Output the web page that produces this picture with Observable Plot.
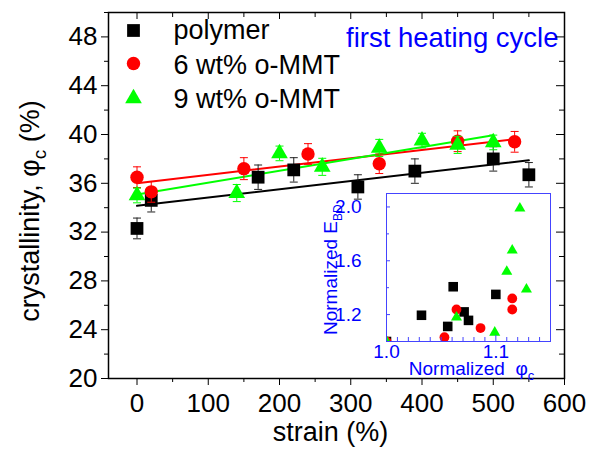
<!DOCTYPE html>
<html><head><meta charset="utf-8">
<script src="https://cdn.jsdelivr.net/npm/d3@7"></script>
<script src="https://cdn.jsdelivr.net/npm/@observablehq/plot@0.6"></script>
<style>
body{margin:0;background:#fff;}
#wrap{position:relative;width:590px;height:449px;overflow:hidden;}
#wrap svg{position:absolute;overflow:visible;}
</style></head><body><div id="wrap"></div>
<script>
const FONT = '"Liberation Sans", Arial, Helvetica, sans-serif';

// ---- series meta ----
const seriesNames = ["polymer", "6 wt% o-MMT", "9 wt% o-MMT"];
const seriesColors = ["#000000", "#ff0000", "#00ff00"];
const seriesSymbols = ["square", "circle", "triangle"];

// ---- main panel data: strain (%) vs crystallinity (%) with error ----
const strainPolymer = [0, 20, 170, 220, 310, 390, 500, 550];
const phiPolymer    = [32.3, 34.6, 36.5, 37.1, 35.7, 37.0, 38.0, 36.7];
const errPolymer    = [0.85, 0.95, 1.0, 1.0, 1.0, 1.0, 1.0, 1.0];

const strain6 = [0, 20, 150, 240, 340, 450, 530];
const phi6    = [36.5, 35.3, 37.2, 38.4, 37.6, 39.45, 39.4];
const err6    = [0.85, 0.85, 0.9, 0.85, 0.8, 0.85, 0.85];

const strain9 = [0, 140, 200, 260, 340, 400, 450, 500];
const phi9    = [35.0, 35.2, 38.45, 37.35, 38.9, 39.5, 39.15, 39.35];
const err9    = [0.6, 0.7, 0.6, 0.7, 0.7, 0.6, 0.7, 0.6];

// ---- inset data: normalized phi_c vs normalized E_BD ----
const normPhiPolymer = [1.0, 1.032, 1.061, 1.056, 1.071, 1.075, 1.1];
const normEPolymer   = [1.0, 1.195, 1.407, 1.112, 1.22, 1.157, 1.35];
const normPhi6 = [1.0, 1.053, 1.064, 1.086, 1.115, 1.115];
const normE6   = [1.0, 1.032, 1.238, 1.1, 1.32, 1.238];
const normPhi9 = [1.0, 1.064, 1.099, 1.11, 1.115, 1.122, 1.128];
const normE9   = [1.0, 1.18, 1.067, 1.52, 1.677, 1.99, 1.388];

// ---- ticks and labels ----
const xTicks = [0, 100, 200, 300, 400, 500, 600];
const xMinorTicks = [50, 150, 250, 350, 450, 550];
const yTicks = [20, 24, 28, 32, 36, 40, 44, 48];
const yMinorTicks = [22, 26, 30, 34, 38, 42, 46, 50];
const insetXTicks = [1.0, 1.1];
const insetXMinorTicks = [1.01, 1.02, 1.03, 1.04, 1.05, 1.06, 1.07, 1.08, 1.09, 1.11, 1.12, 1.13, 1.14];
const insetYTicks = [1.2, 1.6, 2.0];
const insetYMinorTicks = [1.4, 1.8];
const xLabel = "strain (%)";
const yLabelParts = ["crystallinity, \u03c6", "c", " (%)"];
const annotation = "first heating cycle";
const insetXLabelParts = ["Normalized\u00a0\u00a0\u03c6", "c"];
const insetYLabelParts = ["Normalized E", "BD"];

function rows(xs, ys, es, s) { return xs.map((x, i) => ({x, y: ys[i], e: es ? es[i] : 0, s})); }
const mainSeries = [
  rows(strainPolymer, phiPolymer, errPolymer, 0),
  rows(strain6, phi6, err6, 1),
  rows(strain9, phi9, err9, 2)
];
const insetSeries = [
  rows(normPhiPolymer, normEPolymer, null, 0),
  rows(normPhi6, normE6, null, 1),
  rows(normPhi9, normE9, null, 2)
];

const capSymbol = { draw(ctx, size) { const w = Math.sqrt(size / Math.PI); ctx.moveTo(-w, 0); ctx.lineTo(w, 0); } };
const mainR = [7.2, 6.7, 6.2];
const insetR = [5.4, 4.9, 4.1];

// ---- main chart ----
const W = 590, H = 449, mL = 108, mT = 12, mR = 26, mB = 71;
const pw = W - mL - mR, ph = H - mT - mB;

const marks = [];
mainSeries.forEach((d, i) => marks.push(Plot.linearRegressionY(d, {x: "x", y: "y", stroke: seriesColors[i], strokeWidth: 2, ci: 0})));
mainSeries.forEach((d, i) => {
  const ec = i === 0 ? "#222" : seriesColors[i];
  marks.push(Plot.ruleX(d, {x: "x", y1: r => r.y - r.e, y2: r => r.y + r.e, stroke: ec, strokeWidth: 1}));
  marks.push(Plot.dot(d, {x: "x", y: r => r.y + r.e, symbol: capSymbol, r: 4, fill: "none", stroke: ec, strokeWidth: 1}));
  marks.push(Plot.dot(d, {x: "x", y: r => r.y - r.e, symbol: capSymbol, r: 4, fill: "none", stroke: ec, strokeWidth: 1}));
  marks.push(Plot.dot(d, {x: "x", y: "y", symbol: seriesSymbols[i], r: mainR[i], fill: seriesColors[i]}));
});
// legend
const legendDotDy = [18, 51, 86];
const legendTextDy = [17.5, 52.5, 86.5];
seriesNames.forEach((name, i) => {
  marks.push(Plot.dot([name], {frameAnchor: "top-left", dx: 25, dy: legendDotDy[i], symbol: seriesSymbols[i], r: mainR[i], fill: seriesColors[i]}));
  marks.push(Plot.text([name], {frameAnchor: "top-left", lineAnchor: "middle", dx: 65, dy: legendTextDy[i], text: d => d, textAnchor: "start", fontSize: 27, fill: "#000"}));
});
marks.push(Plot.text([annotation], {frameAnchor: "top-right", lineAnchor: "middle", dx: -6, dy: 25.5, text: d => d, textAnchor: "end", fontSize: 27.5, fill: "#0000ff"}));
marks.push(Plot.text([xLabel], {frameAnchor: "bottom", lineAnchor: "middle", dx: -6, dy: 53.5, text: d => d, fontSize: 27, fill: "#000"}));
// axes
marks.push(Plot.axisX({anchor: "bottom", ticks: xTicks, tickSize: 7, tickPadding: 8, fontSize: 26, label: null}));
marks.push(Plot.axisX({anchor: "bottom", ticks: xMinorTicks, tickSize: 4, tickFormat: () => "", label: null}));
marks.push(Plot.axisY({anchor: "left", ticks: yTicks, tickSize: 7, tickPadding: 4, fontSize: 26, label: null}));
marks.push(Plot.axisY({anchor: "left", ticks: yMinorTicks, tickSize: 4, tickFormat: () => "", label: null}));
marks.push(Plot.tickX(xTicks, {x: d => d, insetBottom: ph - 7, stroke: "#000"}));
marks.push(Plot.tickX(xMinorTicks, {x: d => d, insetBottom: ph - 5, stroke: "#000"}));
marks.push(Plot.tickY(yTicks, {y: d => d, insetLeft: pw - 8, stroke: "#000"}));
marks.push(Plot.tickY(yMinorTicks, {y: d => d, insetLeft: pw - 5, stroke: "#000"}));
marks.push(Plot.frame({stroke: "#000", strokeWidth: 1.5}));

const main = Plot.plot({
  width: W, height: H,
  marginLeft: mL, marginTop: mT, marginRight: mR, marginBottom: mB,
  x: {domain: [-40, 600]},
  y: {domain: [20, 50]},
  style: {fontFamily: FONT, background: "#fff", color: "#000"},
  marks
});
main.style.left = "0px"; main.style.top = "0px";
document.getElementById("wrap").appendChild(main);

const yl = d3.select(main).append("text")
  .attr("transform", "translate(38.5,211) rotate(-90)")
  .attr("text-anchor", "middle").attr("font-size", 27).attr("font-family", FONT).attr("fill", "#000");
yl.append("tspan").text(yLabelParts[0]);
yl.append("tspan").attr("dy", 7).attr("font-size", 19).text(yLabelParts[1]);
yl.append("tspan").attr("dy", -7).text(yLabelParts[2]);

// ---- inset chart ----
const IW = 250, IH = 210, iL = 66, iT = 8, iR = 20, iB = 54;
const ipw = IW - iL - iR, iph = IH - iT - iB;
const BLUE = "#0000ff", FRAMEBLUE = "#4444ff";
const fmt1 = d3.format(".1f");
const imarks = [];
insetSeries.forEach((d, i) => imarks.push(Plot.dot(d, {x: "x", y: "y", symbol: seriesSymbols[i], r: insetR[i], fill: seriesColors[i], clip: true})));
imarks.push(Plot.tickX(insetXTicks, {x: d => d, insetTop: iph - 6, stroke: FRAMEBLUE}));
imarks.push(Plot.tickX(insetXMinorTicks, {x: d => d, insetTop: iph - 4, stroke: FRAMEBLUE}));
imarks.push(Plot.tickY(insetYTicks, {y: d => d, insetRight: ipw - 4, stroke: FRAMEBLUE}));
imarks.push(Plot.tickY(insetYMinorTicks, {y: d => d, insetRight: ipw - 3, stroke: FRAMEBLUE}));
imarks.push(Plot.text(insetXTicks, {x: d => d, frameAnchor: "bottom", lineAnchor: "top", dy: 3, text: d => fmt1(d), fontSize: 19, fill: BLUE}));
imarks.push(Plot.text(insetYTicks, {y: d => d, frameAnchor: "left", lineAnchor: "middle", dx: -25, textAnchor: "end", text: d => fmt1(d), fontSize: 19, fill: BLUE}));
imarks.push(Plot.frame({stroke: FRAMEBLUE, strokeWidth: 1}));

const inset = Plot.plot({
  width: IW, height: IH,
  marginLeft: iL, marginTop: iT, marginRight: iR, marginBottom: iB,
  x: {domain: [1.0, 1.15], axis: null},
  y: {domain: [1.0, 2.1], axis: null},
  style: {fontFamily: FONT, background: "transparent", color: BLUE},
  marks: imarks
});
inset.style.left = "320px"; inset.style.top = "185px";
document.getElementById("wrap").appendChild(inset);

const ixl = d3.select(inset).append("text")
  .attr("x", 151.5).attr("y", 189.5)
  .attr("text-anchor", "middle").attr("font-size", 19).attr("font-family", FONT).attr("fill", BLUE);
ixl.append("tspan").text(insetXLabelParts[0]);
ixl.append("tspan").attr("dy", 5).attr("font-size", 13).text(insetXLabelParts[1]);

const iyl = d3.select(inset).append("text")
  .attr("transform", "translate(17,84.7) rotate(-90)")
  .attr("text-anchor", "middle").attr("font-size", 19).attr("font-family", FONT).attr("fill", BLUE);
iyl.append("tspan").text(insetYLabelParts[0]);
iyl.append("tspan").attr("dy", 5).attr("font-size", 12).text(insetYLabelParts[1]);
</script></body></html>
